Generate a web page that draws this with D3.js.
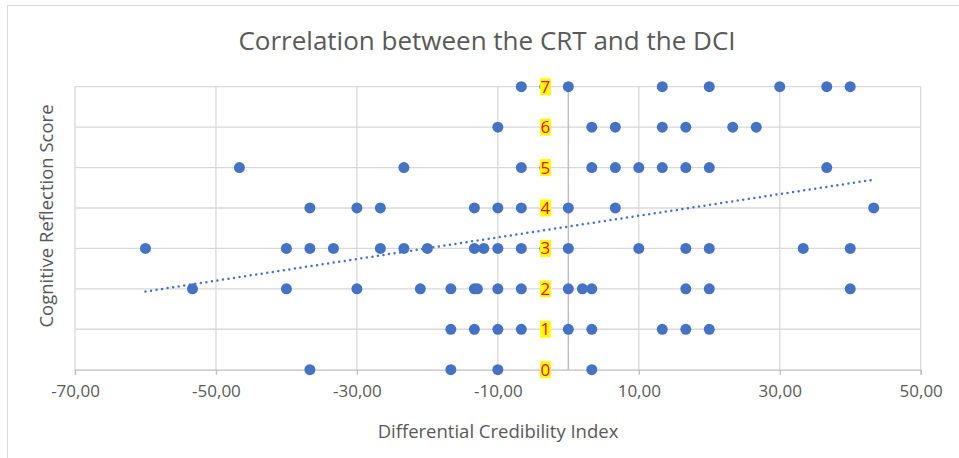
<!DOCTYPE html>
<html lang="en">
<head>
<meta charset="utf-8">
<title>Correlation between the CRT and the DCI</title>
<script src="https://d3js.org/d3.v7.min.js"></script>
<style>
  body { margin: 0; background: #fff; }
  svg { font-family: "Open Sans", sans-serif; }
</style>
</head>
<body>
<script>
// Differential Credibility Index per respondent, grouped by CRT score row
var dci = [
  -6.67, -3.33, 0, 13.33, 20, 30, 36.67, 40,
  -10, 3.33, 6.67, 13.33, 16.67, 23.33, 26.67,
  -46.67, -23.33, -6.67, -3.33, 3.33, 6.67, 10, 13.33, 16.67, 20, 36.67,
  -36.67, -30, -26.67, -13.33, -10, -6.67, 0, 6.67, 43.33,
  -60, -40, -36.67, -33.33, -26.67, -23.33, -20, -13.33, -12, -10, -6.67, -3.33, 0, 10, 16.67, 20, 33.33, 40,
  -53.33, -40, -30, -21, -16.67, -13.33, -12.9, -10, -6.67, 0, 2, 3.33, 16.67, 20, 40,
  -16.67, -13.33, -10, -6.67, 0, 3.33, 13.33, 16.67, 20,
  -36.67, -16.67, -10, 3.33
];
// Cognitive Reflection Score of the same respondents
var crt = [
  7, 7, 7, 7, 7, 7, 7, 7,
  6, 6, 6, 6, 6, 6, 6,
  5, 5, 5, 5, 5, 5, 5, 5, 5, 5, 5,
  4, 4, 4, 4, 4, 4, 4, 4, 4,
  3, 3, 3, 3, 3, 3, 3, 3, 3, 3, 3, 3, 3, 3, 3, 3, 3, 3,
  2, 2, 2, 2, 2, 2, 2, 2, 2, 2, 2, 2, 2, 2, 2,
  1, 1, 1, 1, 1, 1, 1, 1, 1,
  0, 0, 0, 0
];

var xTicks = [-70, -50, -30, -10, 10, 30, 50];
var yTicks = [0, 1, 2, 3, 4, 5, 6, 7];

var w = 959, h = 458;
var plotL = 75, plotR = 920.7, plotT = 86.7, plotB = 369.7;

var x = d3.scaleLinear().domain([-70, 50]).range([plotL, plotR]);
var y = d3.scaleLinear().domain([0, 7]).range([plotB, plotT]);
var fmt = function(d) { return d3.format(".2f")(d).replace(".", ",").replace("−", "-"); };

var svg = d3.select("body").append("svg")
  .attr("width", w)
  .attr("height", h);

// chart border
svg.append("rect")
  .attr("x", 7.5).attr("y", 5.5)
  .attr("width", 970).attr("height", 470)
  .attr("fill", "#fff")
  .attr("stroke", "#d9d9d9");

// title
svg.append("text")
  .attr("x", 487).attr("y", 50)
  .attr("text-anchor", "middle")
  .attr("font-size", 26)
  .attr("fill", "#595959")
  .text("Correlation between the CRT and the DCI");

// gridlines
svg.append("g").selectAll("line")
  .data(yTicks.slice(1))
  .join("line")
  .attr("x1", plotL).attr("x2", plotR)
  .attr("y1", function(d) { return y(d); })
  .attr("y2", function(d) { return y(d); })
  .attr("stroke", "#d9d9d9").attr("stroke-width", 1.3);

svg.append("g").selectAll("line")
  .data(xTicks)
  .join("line")
  .attr("x1", function(d) { return x(d); })
  .attr("x2", function(d) { return x(d); })
  .attr("y1", plotT).attr("y2", plotB)
  .attr("stroke", "#d9d9d9").attr("stroke-width", 1.3);

// horizontal axis at y = 0
var xAxis = d3.axisBottom(x)
  .tickValues(xTicks)
  .tickSize(5)
  .tickPadding(10)
  .tickFormat(fmt);

var gx = svg.append("g")
  .attr("transform", "translate(0," + plotB + ")")
  .call(xAxis);
gx.select(".domain").attr("stroke", "#bfbfbf").attr("stroke-width", 1.3);
gx.selectAll(".tick line").attr("stroke", "#bfbfbf").attr("stroke-width", 1.3);
gx.selectAll(".tick text")
  .attr("font-size", 17)
  .attr("font-family", "Open Sans, sans-serif")
  .attr("fill", "#595959");

// vertical axis crossing at x = 0
svg.append("line")
  .attr("x1", x(0)).attr("x2", x(0))
  .attr("y1", plotT).attr("y2", plotB)
  .attr("stroke", "#bfbfbf").attr("stroke-width", 1.5);

// points
svg.append("g").selectAll("circle")
  .data(dci)
  .join("circle")
  .attr("cx", function(d) { return x(d); })
  .attr("cy", function(d, i) { return y(crt[i]); })
  .attr("r", 5.5)
  .attr("fill", "#4472c4");

// linear trendline (least squares)
var mx = d3.mean(dci), my = d3.mean(crt);
var sxy = d3.sum(dci, function(d, i) { return (d - mx) * (crt[i] - my); });
var sxx = d3.sum(dci, function(d) { return (d - mx) * (d - mx); });
var slope = sxy / sxx, icpt = my - slope * mx;
var ext = d3.extent(dci);

svg.append("line")
  .attr("x1", x(ext[0])).attr("y1", y(icpt + slope * ext[0]))
  .attr("x2", x(ext[1])).attr("y2", y(icpt + slope * ext[1]))
  .attr("stroke", "#4472c4")
  .attr("stroke-width", 2.5)
  .attr("stroke-linecap", "round")
  .attr("stroke-dasharray", "0 5.6");

// vertical axis labels: red on yellow
var lab = svg.append("g").selectAll("g")
  .data(yTicks)
  .join("g")
  .attr("transform", function(d) { return "translate(" + (x(0) - 18) + "," + y(d) + ")"; });

var labText = lab.append("text")
  .attr("text-anchor", "end")
  .attr("dy", "0.35em")
  .attr("font-size", 17)
  .attr("fill", "#ff0000")
  .text(function(d) { return d; });

labText.each(function() {
  var b = this.getBBox();
  d3.select(this.parentNode).insert("rect", "text")
    .attr("x", b.x - 0.5).attr("y", -8.5)
    .attr("width", b.width + 1).attr("height", 17)
    .attr("fill", "#ffff00");
});

// axis titles
svg.append("text")
  .attr("x", 498).attr("y", 438)
  .attr("text-anchor", "middle")
  .attr("font-size", 18.5)
  .attr("fill", "#595959")
  .text("Differential Credibility Index");

svg.append("text")
  .attr("transform", "translate(53,216) rotate(-90)")
  .attr("text-anchor", "middle")
  .attr("font-size", 18.5)
  .attr("fill", "#595959")
  .text("Cognitive Reflection Score");
</script>
</body>
</html>
